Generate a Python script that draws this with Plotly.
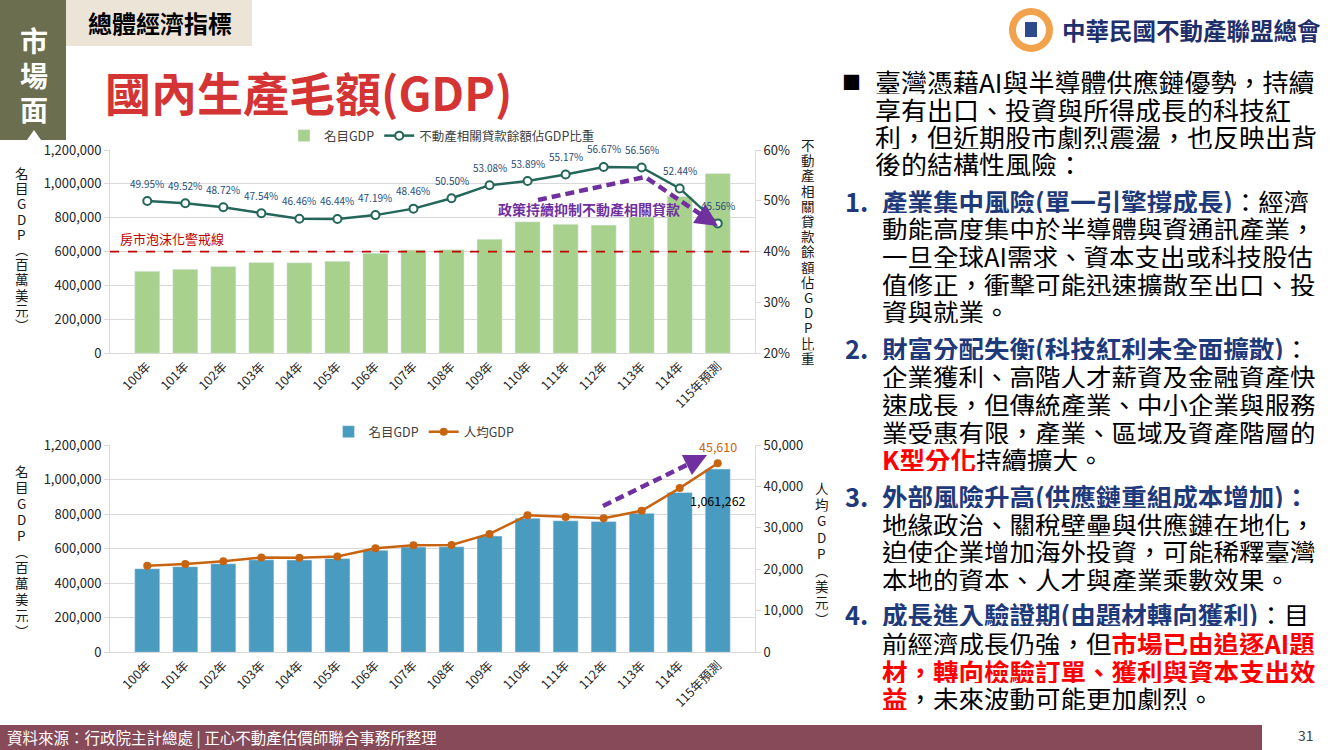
import plotly.graph_objects as go

# 年度
years = ["100年", "101年", "102年", "103年", "104年", "105年", "106年", "107年",
         "108年", "109年", "110年", "111年", "112年", "113年", "114年", "115年預測"]

# 名目GDP (百萬美元)
gdp = [483974, 495845, 512951, 535332, 534474, 543002, 590780, 609251,
       611336, 673251, 775838, 761685, 756589, 805000, 925000, 1061262]

# 不動產相關貸款餘額佔GDP比重 (%)
loan_share = [49.95, 49.52, 48.72, 47.54, 46.46, 46.44, 47.19, 48.46,
              50.50, 53.08, 53.89, 55.17, 56.67, 56.56, 52.44, 45.56]

# 人均GDP (美元)
gdp_per_capita = [20866, 21295, 21973, 22874, 22780, 23091, 25080, 25838,
                  25908, 28549, 33059, 32625, 32319, 34130, 39600, 45610]

warning_line = 600000

W, H = 1330, 750
FONT = "Noto Sans CJK TC"
NAVY = "#1F3A7A"
RED = "#FF0000"
PURPLE = "#7030A0"
GRID = "#D9D9D9"
TICK = "#262626"


def px(x):
    return x / W


def py(y):
    return 1 - y / H


fig = go.Figure()

# 上圖
fig.add_trace(go.Bar(x=years, y=gdp, name="名目GDP", marker_color="#A9D18E",
                     xaxis="x", yaxis="y", legend="legend"))
fig.add_trace(go.Scatter(x=years, y=loan_share, name="不動產相關貸款餘額佔GDP比重",
                         mode="lines+markers",
                         line=dict(color="#24675A", width=2.5),
                         marker=dict(size=8, color="white", line=dict(color="#24675A", width=2)),
                         xaxis="x", yaxis="y2", legend="legend"))

# 下圖
fig.add_trace(go.Bar(x=years, y=gdp, name="名目GDP", marker_color="#4A9BC0",
                     xaxis="x2", yaxis="y3", legend="legend2"))
fig.add_trace(go.Scatter(x=years, y=gdp_per_capita, name="人均GDP",
                         mode="lines+markers",
                         line=dict(color="#C8630F", width=2.5),
                         marker=dict(size=8, color="#C8630F"),
                         xaxis="x2", yaxis="y4", legend="legend2"))

xdom = [px(110), px(755)]
tickfont = dict(size=13, color=TICK, family=FONT)
left_axis = dict(range=[0, 1200000], dtick=200000, tickformat=",", showgrid=True, gridcolor=GRID,
                 showline=True, linecolor=GRID, ticks="outside", ticklen=5, tickcolor=GRID,
                 zeroline=False, tickfont=tickfont, automargin=False)
right_axis = dict(side="right", showgrid=False, showline=True, linecolor=GRID, ticks="outside",
                  ticklen=5, tickcolor=GRID, zeroline=False, tickfont=tickfont, automargin=False)
x_axis = dict(domain=xdom, tickangle=-45, showline=True, linecolor=GRID, ticks="",
              tickfont=dict(size=12.5, color=TICK, family=FONT), automargin=False)

annotations = []


def note(x, y, text, size, color="black", xanchor="left", height=None):
    a = dict(x=px(x), y=py(y), xref="paper", yref="paper", text=text,
             showarrow=False, xanchor=xanchor, yanchor="middle",
             font=dict(size=size, color=color, family=FONT))
    if height:
        a["height"] = height
    annotations.append(a)


def vtext(chars, x, y_top, step, size=13.5, color="#1A1A1A"):
    for i, ch in enumerate(chars):
        note(x, y_top + i * step, ch, size, color, xanchor="center", height=step - 1)


# 百分比標籤
for yr, v in zip(years, loan_share):
    annotations.append(dict(x=yr, y=v, xref="x", yref="y2", text=f"{v:.2f}%", yshift=18,
                            showarrow=False, font=dict(size=10, color="#1F4E79", family=FONT)))

# 下圖標籤
annotations.append(dict(x=years[-1], y=gdp_per_capita[-1], xref="x2", yref="y4",
                        text=f"{gdp_per_capita[-1]:,}", yshift=17, showarrow=False,
                        font=dict(size=12.5, color="#C8630F", family=FONT)))
annotations.append(dict(x=years[-1], y=gdp[-1], xref="x2", yref="y3",
                        text=f"{gdp[-1]:,}", yshift=-32, showarrow=False,
                        font=dict(size=12.5, color="black", family=FONT)))

# 軸標題 (直書)
vtext("名目GDP︵百萬美元︶", 22, 173, 15.2)
vtext("不動產相關貸款餘額佔GDP比重", 808, 145, 15.2)
vtext("名目GDP︵百萬美元︶", 22, 470, 16)
vtext("人均GDP︵美元︶", 822, 487, 16.4)

# 圖中文字
note(118, 238, "房市泡沫化警戒線", 13, "#C00000")
note(589, 209, "<b>政策持續抑制不動產相關貸款</b>", 14, PURPLE, xanchor="center")

# 箭頭頭部
annotations.append(dict(x=px(718), y=py(226), xref="paper", yref="paper", ax=-12, ay=-8,
                        showarrow=True, arrowhead=2, arrowsize=1, arrowwidth=4.5,
                        arrowcolor=PURPLE, text="", standoff=0))
annotations.append(dict(x=px(707), y=py(455), xref="paper", yref="paper", ax=-13, ay=6.5,
                        showarrow=True, arrowhead=2, arrowsize=1, arrowwidth=4.5,
                        arrowcolor=PURPLE, text="", standoff=0))

# 頁首
for ch, yy in zip("市場面", [39, 74, 108]):
    note(34, yy, f"<b>{ch}</b>", 28, "white", xanchor="center", height=33)
note(86, 23, "<b>總體經濟指標</b>", 24, "black")
note(103, 91, "<b>國內生產毛額(GDP)</b>", 46, "#D43434")
note(1060, 30, "<b>中華民國不動產聯盟總會</b>", 23.5, "#1F2F6B")

# 右側文字
note(851, 81, "■", 19, "black", xanchor="center", height=26)
para = ["臺灣憑藉AI與半導體供應鏈優勢，持續",
        "享有出口、投資與所得成長的科技紅",
        "利，但近期股市劇烈震盪，也反映出背",
        "後的結構性風險："]
for t, yy in zip(para, [81, 109, 136, 163]):
    note(873, yy, t, 26, "black", height=26)


def hd(t):
    return f"<span style='color:{NAVY}'><b>{t}</b></span>"


def hl(t):
    return f"<span style='color:{RED}'><b>{t}</b></span>"


items = [
    ("1.", [(200, hd("產業集中風險(單一引擎撐成長)") + "：經濟"),
            (227, "動能高度集中於半導體與資通訊產業，"),
            (255, "一旦全球AI需求、資本支出或科技股估"),
            (283, "值修正，衝擊可能迅速擴散至出口、投"),
            (310, "資與就業。")]),
    ("2.", [(347, hd("財富分配失衡(科技紅利未全面擴散)") + "："),
            (375, "企業獲利、高階人才薪資及金融資產快"),
            (403, "速成長，但傳統產業、中小企業與服務"),
            (431, "業受惠有限，產業、區域及資產階層的"),
            (458, hl("K型分化") + "持續擴大。")]),
    ("3.", [(495, hd("外部風險升高(供應鏈重組成本增加)：")),
            (523, "地緣政治、關稅壁壘與供應鏈在地化，"),
            (550, "迫使企業增加海外投資，可能稀釋臺灣"),
            (578, "本地的資本、人才與產業乘數效果。")]),
    ("4.", [(613, hd("成長進入驗證期(由題材轉向獲利)") + "：目"),
            (642, "前經濟成長仍強，但" + hl("市場已由追逐AI題")),
            (670, hl("材，轉向檢驗訂單、獲利與資本支出效")),
            (697, hl("益") + "，未來波動可能更加劇烈。")]),
]
for num, lines in items:
    note(843, lines[0][0], f"<b>{num}</b>", 25.5, NAVY, height=26)
    for yy, t in lines:
        note(880, yy, t, 25.5, "black", height=26)

# 頁尾
note(5, 737, "資料來源：行政院主計總處 | 正心不動產估價師聯合事務所整理", 15.5, "white")
note(1306, 735, "31", 14, "#404040", xanchor="center")

shapes = [
    dict(type="rect", xref="paper", yref="paper", x0=0, x1=px(66), y0=py(140), y1=1,
         fillcolor="#6B6F4F", line_width=0, layer="below"),
    dict(type="rect", xref="paper", yref="paper", x0=px(66), x1=px(252), y0=py(46), y1=1,
         fillcolor="#EDE4D8", line_width=0, layer="below"),
    dict(type="path", xref="paper", yref="paper",
         path=f"M {px(34)} {py(130)} L {px(27)} {py(140)} L {px(41)} {py(140)} Z",
         fillcolor="white", line_width=0),
    dict(type="rect", xref="paper", yref="paper", x0=0, x1=px(1262), y0=0, y1=py(725),
         fillcolor="#864A58", line_width=0, layer="below"),
    dict(type="line", xref="x domain", yref="y", x0=0, x1=1, y0=warning_line, y1=warning_line,
         line=dict(color="#C00000", width=1.8, dash="dash")),
    dict(type="path", xref="paper", yref="paper",
         path=f"M {px(538)} {py(200)} L {px(645)} {py(177)} L {px(709)} {py(220)}",
         line=dict(color=PURPLE, width=4.5, dash="9px,5px")),
    dict(type="line", xref="paper", yref="paper", x0=px(603), y0=py(506), x1=px(697), y1=py(460),
         line=dict(color=PURPLE, width=4.5, dash="9px,5px")),
    # logo
    dict(type="circle", xref="paper", yref="paper", x0=px(1009), x1=px(1053), y0=py(52), y1=py(8),
         fillcolor="#F2A24C", line_width=0),
    dict(type="circle", xref="paper", yref="paper", x0=px(1016), x1=px(1046), y0=py(45), y1=py(15),
         fillcolor="white", line_width=0),
    dict(type="rect", xref="paper", yref="paper", x0=px(1025), x1=px(1037), y0=py(37), y1=py(22),
         fillcolor="#2C4A8C", line_width=0),
]

legend_font = dict(size=12.5, color="#404040", family=FONT)
fig.update_layout(
    width=W, height=H, autosize=False,
    margin=dict(l=0, r=0, t=0, b=0, pad=0, autoexpand=False),
    paper_bgcolor="white", plot_bgcolor="white",
    font=dict(family=FONT),
    bargap=0.34,
    showlegend=True,
    xaxis=dict(x_axis, anchor="y"),
    yaxis=dict(left_axis, domain=[py(353.3), py(150)], anchor="x"),
    yaxis2=dict(right_axis, overlaying="y", anchor="x", range=[20, 60], dtick=10, ticksuffix="%"),
    xaxis2=dict(x_axis, anchor="y3"),
    yaxis3=dict(left_axis, domain=[py(652.3), py(445)], anchor="x2"),
    yaxis4=dict(right_axis, overlaying="y3", anchor="x2", range=[0, 50000], dtick=10000, tickformat=","),
    legend=dict(orientation="h", x=px(442), xanchor="center", y=py(136), yanchor="middle",
                font=legend_font, bgcolor="rgba(0,0,0,0)", itemwidth=30),
    legend2=dict(orientation="h", x=px(424), xanchor="center", y=py(432), yanchor="middle",
                 font=legend_font, bgcolor="rgba(0,0,0,0)", itemwidth=30),
    annotations=annotations,
    shapes=shapes,
)

fig.write_html("out.html", config={"displayModeBar": False},
               post_script="document.body.style.margin='0px';")
